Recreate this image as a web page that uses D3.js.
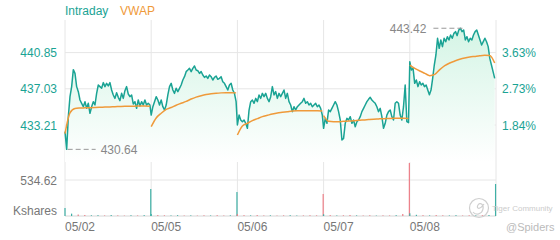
<!DOCTYPE html>
<html>
<head>
<meta charset="utf-8">
<script src="https://cdn.jsdelivr.net/npm/d3@7"></script>
<style>
  body { margin: 0; background: #fff; }
  svg { display: block; font-family: "Liberation Sans", Arial, sans-serif; }
</style>
</head>
<body>
<script>
const days = ["05/02", "05/05", "05/06", "05/07", "05/08"];
const priceTicks = [440.85, 437.03, 433.21];
const pctLabels = ["3.63%", "2.73%", "1.84%"];
const volTick = 534.62;

// intraday price, one array per day
const price0 = [432.51, 430.64, 434.09, 436.20, 437.26, 439.05, 438.66, 437.26, 436.73, 435.85, 435.50, 435.14, 435.67, 434.97, 435.50, 434.44, 435.14, 435.67, 435.32, 436.55, 437.43, 437.26, 437.08, 437.68, 437.26, 437.61, 437.33, 437.68, 436.90, 436.38, 436.02, 436.62, 436.13, 435.78, 436.55, 436.02, 436.83, 437.26, 436.48, 436.20, 436.38, 435.43, 435.67, 434.97, 435.85, 435.21, 435.67, 435.32, 435.85, 435.32, 435.50, 435.32];
const price1 = [434.26, 435.14, 435.67, 436.20, 435.85, 435.32, 435.85, 435.14, 434.79, 435.32, 436.38, 437.26, 437.61, 436.90, 436.55, 437.08, 436.73, 437.08, 437.43, 437.96, 438.31, 438.84, 439.01, 439.19, 438.84, 439.19, 439.44, 439.01, 438.94, 438.66, 438.84, 438.49, 438.24, 438.38, 438.13, 438.49, 438.31, 437.96, 438.24, 438.38, 438.03, 438.13, 438.31, 437.78, 437.61, 437.26, 436.90, 437.43, 437.61, 436.90, 436.55, 435.67];
const price2 = [433.21, 434.26, 433.74, 433.56, 433.74, 433.39, 432.86, 434.79, 435.67, 435.85, 435.50, 436.02, 435.67, 436.38, 436.02, 436.55, 436.20, 436.55, 436.02, 435.67, 436.20, 437.26, 436.38, 436.73, 436.02, 436.55, 436.20, 436.55, 436.90, 436.02, 436.55, 435.67, 435.32, 434.62, 435.14, 434.79, 435.14, 435.32, 435.50, 435.67, 436.02, 435.50, 435.67, 435.32, 435.50, 435.14, 435.32, 435.50, 435.14, 435.32, 434.97, 434.26];
const price3 = [432.86, 433.91, 433.39, 434.79, 434.62, 434.97, 435.32, 435.67, 435.32, 434.62, 433.74, 431.63, 431.80, 433.39, 433.91, 433.74, 434.09, 433.39, 433.74, 433.03, 433.56, 433.74, 434.09, 434.62, 434.97, 435.32, 435.67, 435.92, 436.13, 435.85, 435.67, 435.50, 435.14, 434.62, 434.97, 434.09, 432.86, 433.39, 434.26, 434.62, 434.79, 434.09, 433.74, 435.50, 435.67, 435.50, 434.26, 433.74, 435.14, 437.43, 433.56, 433.46];
const price4 = [439.89, 439.01, 439.19, 437.61, 437.96, 437.26, 437.78, 437.43, 437.61, 437.26, 437.43, 436.90, 436.40, 436.90, 438.13, 439.54, 440.60, 442.36, 441.30, 442.18, 441.48, 442.36, 442.00, 442.53, 442.18, 442.71, 442.36, 442.88, 443.06, 442.64, 443.23, 443.42, 443.06, 443.23, 442.18, 442.53, 442.00, 442.36, 442.18, 442.71, 443.06, 443.23, 442.71, 442.18, 441.65, 442.00, 442.36, 442.00, 441.48, 440.24, 439.54, 438.84, 438.13];

// VWAP, one array per day
const vwap0 = [432.30, 434.50, 434.95, 435.00, 435.02, 435.04, 435.06, 435.08, 435.10, 435.12, 435.14, 435.16, 435.18, 435.19, 435.20, 435.21, 435.21, 435.20];
const vwap1 = [433.03, 433.95, 434.45, 434.85, 435.05, 435.30, 435.50, 435.70, 435.95, 436.15, 436.30, 436.42, 436.50, 436.56, 436.60, 436.62, 436.62, 436.60];
const vwap2 = [432.15, 433.10, 433.39, 433.67, 433.88, 434.09, 434.23, 434.37, 434.48, 434.55, 434.62, 434.69, 434.72, 434.72, 434.72, 434.72, 434.72, 434.69];
const vwap3 = [434.20, 433.60, 433.55, 433.55, 433.60, 433.62, 433.65, 433.70, 433.74, 433.78, 433.82, 433.85, 433.88, 433.90, 433.92, 433.93, 433.93, 433.90];
const vwap4 = [439.54, 439.19, 438.91, 438.66, 438.42, 438.55, 439.05, 439.47, 439.75, 439.96, 440.14, 440.28, 440.38, 440.45, 440.52, 440.56, 440.55, 439.75];

// volume in Kshares, u = up bar, d = down bar
const vol0 = [119, 35, 22, 15, 10, 12, 8, 14, 9, 6, 11, 8, 13, 401];
const vol1 = [30, 14, 10, 8, 12, 7, 9, 6, 10, 8, 12, 7, 10, 356];
const vol2 = [28, 12, 9, 14, 8, 10, 6, 9, 12, 7, 8, 11, 9, 327];
const vol3 = [25, 13, 8, 10, 15, 9, 7, 11, 6, 9, 8, 12, 30, 787];
const vol4 = [40, 18, 12, 9, 14, 10, 8, 12, 7, 10, 9, 11, 14, 475];
const dir0 = "uudduududduduu";
const dir1 = "udduududdudduu";
const dir2 = "dduddudduudddd";
const dir3 = "ududdudduddudd";
const dir4 = "uududduudduduu";

const prices = [price0, price1, price2, price3, price4];
const vwaps = [vwap0, vwap1, vwap2, vwap3, vwap4];
const vols = [vol0, vol1, vol2, vol3, vol4];
const dirs = [dir0, dir1, dir2, dir3, dir4];

const TEAL = "#1aa394", ORANGE = "#ef9a3a", RED = "#ec7f88", GRID = "#e6e6e6";
const paneTop = 20, paneBottom = 162, volBase = 216;

const svg = d3.select("body").append("svg")
  .attr("width", 560)
  .attr("height", 240);

const x = d3.scaleLinear().domain([0, 5]).range([65, 496]);
const y = d3.scaleLinear().domain([433.21, 440.85]).range([125, 52.6]);
const yv = d3.scaleLinear().domain([0, volTick]).range([volBase, 180]);

const toPoints = (arr, d, span) =>
  arr.map((p, j) => ({ t: d + (j / (arr.length - 1)) * span, p }));

const pricePts = prices.flatMap((arr, d) => toPoints(arr, d, 0.985));

// gridlines
svg.selectAll(".hgrid")
  .data(priceTicks.concat([volTick]))
  .enter()
  .append("line")
  .attr("x1", x(0)).attr("x2", x(5))
  .attr("y1", (d, i) => (i < 3 ? y(d) : yv(d)))
  .attr("y2", (d, i) => (i < 3 ? y(d) : yv(d)))
  .attr("stroke", GRID);

svg.selectAll(".vgrid")
  .data(d3.range(6))
  .enter()
  .append("line")
  .attr("x1", (d) => x(d)).attr("x2", (d) => x(d))
  .attr("y1", paneTop).attr("y2", volBase)
  .attr("stroke", GRID);

svg.append("line")
  .attr("x1", x(0)).attr("x2", x(5))
  .attr("y1", volBase).attr("y2", volBase)
  .attr("stroke", "#d6d6d6");

// area fill
const grad = svg.append("defs").append("linearGradient")
  .attr("id", "fill")
  .attr("gradientUnits", "userSpaceOnUse")
  .attr("x1", 0).attr("y1", paneTop)
  .attr("x2", 0).attr("y2", paneBottom);
grad.append("stop").attr("offset", 0).attr("stop-color", "#d2f4e4");
grad.append("stop").attr("offset", 1).attr("stop-color", "#ffffff");

svg.append("path")
  .datum(pricePts)
  .attr("fill", "url(#fill)")
  .attr("d", d3.area().x((d) => x(d.t)).y0(paneBottom).y1((d) => y(d.p)));

svg.append("path")
  .datum(pricePts)
  .attr("fill", "none")
  .attr("stroke", TEAL)
  .attr("stroke-width", 1.5)
  .attr("stroke-linejoin", "round")
  .attr("d", d3.line().x((d) => x(d.t)).y((d) => y(d.p)));

// vwap, one segment per day
svg.selectAll(".vwap")
  .data(vwaps.map((arr, d) => toPoints(arr, d, 0.985)))
  .enter()
  .append("path")
  .attr("fill", "none")
  .attr("stroke", ORANGE)
  .attr("stroke-width", 1.5)
  .attr("d", d3.line().curve(d3.curveMonotoneX).x((d) => x(d.t)).y((d) => y(d.p)));

// volume bars
const volPts = vols.flatMap((arr, d) =>
  arr.map((v, j) => ({ t: d + (j / (arr.length - 1)) * 0.995, v, up: dirs[d][j] === "u" }))
);
svg.selectAll(".vol")
  .data(volPts)
  .enter()
  .append("rect")
  .attr("x", (d) => x(d.t) - 0.6)
  .attr("width", 1.2)
  .attr("y", (d) => yv(d.v))
  .attr("height", (d) => volBase - yv(d.v))
  .attr("fill", (d) => (d.up ? "#3fb0a6" : RED));

// high / low markers
const lowPt = pricePts.reduce((a, b) => (b.p < a.p ? b : a));
const highPt = pricePts.reduce((a, b) => (b.p > a.p ? b : a));

svg.append("line")
  .attr("x1", x(lowPt.t) + 1).attr("x2", x(lowPt.t) + 29)
  .attr("y1", y(lowPt.p)).attr("y2", y(lowPt.p))
  .attr("stroke", "#999").attr("stroke-dasharray", "5,3");
svg.append("text")
  .attr("x", x(lowPt.t) + 34).attr("y", y(lowPt.p) + 4.5)
  .attr("font-size", 12).attr("fill", "#888")
  .text(lowPt.p.toFixed(2));

svg.append("line")
  .attr("x1", x(highPt.t) - 27).attr("x2", x(highPt.t) + 2)
  .attr("y1", y(highPt.p)).attr("y2", y(highPt.p))
  .attr("stroke", "#999").attr("stroke-dasharray", "5,3");
svg.append("text")
  .attr("x", x(highPt.t) - 34).attr("y", y(highPt.p) + 4.5)
  .attr("text-anchor", "end")
  .attr("font-size", 12).attr("fill", "#888")
  .text(highPt.p.toFixed(2));

// axis labels
svg.selectAll(".ptick")
  .data(priceTicks)
  .enter()
  .append("text")
  .attr("x", 57).attr("y", (d) => y(d) + 4.5)
  .attr("text-anchor", "end")
  .attr("font-size", 12).attr("fill", TEAL)
  .text((d) => d.toFixed(2));

svg.selectAll(".pct")
  .data(pctLabels)
  .enter()
  .append("text")
  .attr("x", 502).attr("y", (d, i) => y(priceTicks[i]) + 4.5)
  .attr("font-size", 12).attr("fill", TEAL)
  .text((d) => d);

svg.append("text")
  .attr("x", 57).attr("y", yv(volTick) + 4.5)
  .attr("text-anchor", "end")
  .attr("font-size", 12).attr("fill", "#777")
  .text(volTick.toFixed(2));
svg.append("text")
  .attr("x", 57).attr("y", 215)
  .attr("text-anchor", "end")
  .attr("font-size", 12).attr("fill", "#777")
  .text("Kshares");

svg.selectAll(".day")
  .data(days)
  .enter()
  .append("text")
  .attr("x", (d, i) => x(i)).attr("y", 230.5)
  .attr("font-size", 12).attr("fill", "#777")
  .text((d) => d);

// legend
svg.append("text").attr("x", 65).attr("y", 15)
  .attr("font-size", 12).attr("fill", TEAL).text("Intraday");
svg.append("text").attr("x", 120).attr("y", 15)
  .attr("font-size", 12).attr("fill", ORANGE).text("VWAP");

// watermark
svg.append("circle")
  .attr("cx", 479).attr("cy", 208).attr("r", 9.5)
  .attr("fill", "none").attr("stroke", "#cfcfcf").attr("stroke-width", 1.2);
svg.append("path")
  .attr("d", "M473,212 C476,216 482,214 483,209 C484,204 480,202 478,205 C476,208 479,211 484,204")
  .attr("fill", "none").attr("stroke", "#cfcfcf").attr("stroke-width", 1.2);
svg.append("text").attr("x", 492).attr("y", 211)
  .attr("font-size", 8).attr("fill", "#cccccc").text("Tiger Community");
svg.append("text").attr("x", 506).attr("y", 231)
  .attr("font-size", 11).attr("fill", "#bbbbbb").text("@Spiders");
</script>
</body>
</html>
